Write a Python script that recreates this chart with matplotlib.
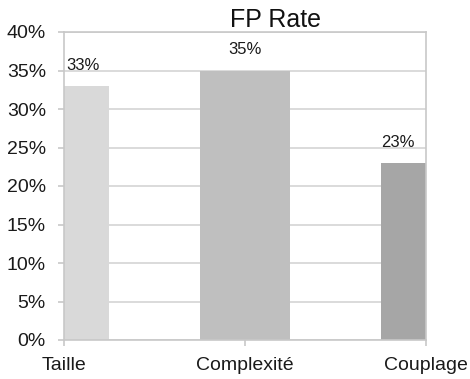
import matplotlib
matplotlib.use("Agg")
import matplotlib.pyplot as plt
from matplotlib.ticker import PercentFormatter

# taux de faux positifs par métrique
categories = ["Taille", "Complexité", "Couplage"]
fp_rate = [33, 35, 23]
bar_colors = ["#d9d9d9", "#bfbfbf", "#a6a6a6"]
label_dx = [14, 0, -20]  # décalage horizontal des étiquettes (pt)

plt.rcParams["font.family"] = ["Liberation Sans", "DejaVu Sans"]

fig = plt.figure(figsize=(4.70, 3.79), dpi=100)
ax = fig.add_axes([64 / 470, 1 - 340 / 379, 362 / 470, 308 / 379])

x = range(len(categories))
ax.bar(x, fp_rate, width=0.5, color=bar_colors, zorder=2)
ax.set_xlim(0, len(categories) - 1)
ax.set_ylim(0, 40)
ax.set_yticks(range(0, 41, 5))
ax.yaxis.set_major_formatter(PercentFormatter(decimals=0))
ax.set_xticks(list(x))
ax.set_xticklabels(categories)

ax.grid(axis="y", color="#d4d4d4", linewidth=1.2, zorder=0)
ax.set_axisbelow(True)
for s in ax.spines.values():
    s.set_color("#c8c8c8")
    s.set_linewidth(1.2)
ax.tick_params(axis="both", colors="#c8c8c8", labelcolor="#1a1a1a",
               labelsize=14, length=4, width=1.2)
ax.tick_params(axis="y", pad=9)
ax.tick_params(axis="x", pad=8)

for i, v in enumerate(fp_rate):
    ax.annotate("%d%%" % v, (i, v), xytext=(label_dx[i], 9.5),
                textcoords="offset points", ha="center", va="bottom",
                fontsize=12, color="#1a1a1a", annotation_clip=False)

ax.text(0.583, 1.016, "FP Rate", transform=ax.transAxes, ha="center",
        va="baseline", fontsize=18, color="#111111")

fig.savefig("out.png", dpi=100)
